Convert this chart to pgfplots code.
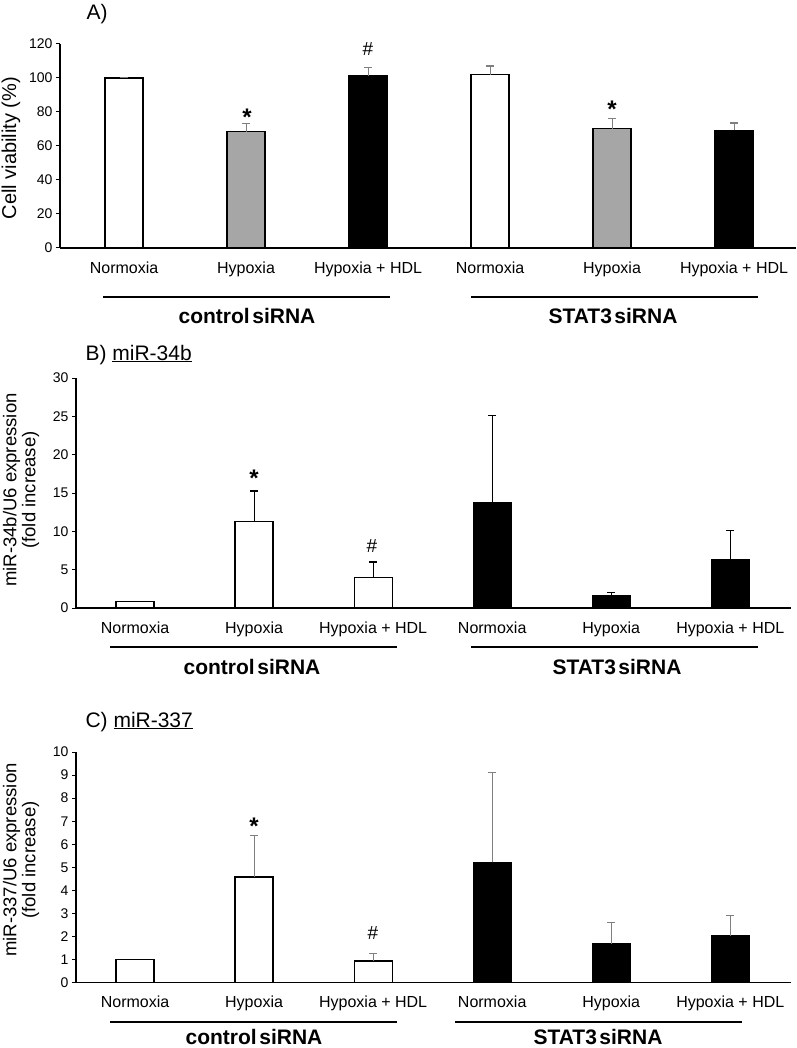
\documentclass[border=0pt]{standalone}
\usepackage{pgfplots}
\pgfplotsset{compat=1.18}
\usepackage{fontspec}
\setmainfont{Liberation Sans}
\newcommand\fs[1]{\fontsize{#1}{#1}\selectfont}
\definecolor{bargray}{HTML}{A6A6A6}
\definecolor{errgray}{HTML}{7F7F7F}
\pgfplotsset{
  panel/.style={
    scale only axis, anchor=south west,
    axis x line=bottom, axis y line=left,
    axis line style={-, line width=1.2pt, black},
    ybar, bar width=38pt, bar shift=0pt,
    xtick={0,...,5},
    xticklabels={Normoxia,Hypoxia,Hypoxia + HDL,Normoxia,Hypoxia,Hypoxia + HDL},
    xtick style={draw=none},
    tick align=outside, major tick length=4pt,
    ytick style={line width=1pt, black},
    ymin=0,
    yticklabel style={font=\fs{14}},
    xticklabel style={font=\fs{16}, yshift=-6pt},
    /pgf/number format/assume math mode=true,
    clip=false,
  },
  wbar/.style={fill=white, draw=black, line width=1.2pt},
  gbar/.style={fill=bargray, draw=black, line width=1.2pt},
  kbar/.style={fill=black, draw=black, line width=1.2pt},
  errs/.style={error bars/.cd, y dir=plus, y explicit,
    error bar style={color=#1, line width=1pt},
    error mark options={rotate=90, color=#1, mark size=4pt, line width=1.2pt}},
}
\begin{document}
\begin{tikzpicture}
\useasboundingbox (0,0) rectangle (796pt,-1048pt);
% ---------------- Panel A ----------------
\begin{axis}[panel, at={(60pt,-248pt)}, width=736pt, height=204pt,
  xmin=-0.525, xmax=5.508, ymax=120, ytick={0,20,...,120}]
\addplot[wbar, errs=errgray] coordinates {(0,100) +- (0,0.5) (3,102) +- (0,5)};
\addplot[gbar, errs=errgray] coordinates {(1,68.5) +- (0,4.6) (4,70.2) +- (0,6.2)};
\addplot[kbar, errs=errgray] coordinates {(2,101.4) +- (0,4.6) (5,69.2) +- (0,4.3)};
\end{axis}
\node[anchor=base west] at (83pt,-20pt) {\fs{21}A)};
\node[rotate=90] at (11pt,-148pt) {\fs{20}Cell viability (\%)};
\node[anchor=base] at (247pt,-126pt) {\fs{24}\bfseries *};
\node[anchor=base] at (612pt,-118pt) {\fs{24}\bfseries *};
\node[anchor=base] at (368pt,-56pt) {\fs{19}\#};
\draw[line width=1.2pt] (103pt,-297pt) -- (390pt,-297pt);
\draw[line width=1.2pt] (471pt,-297pt) -- (758pt,-297pt);
\node at (247pt,-316pt) {\fs{21}\bfseries control\hspace{0.12em}siRNA};
\node at (613pt,-316pt) {\fs{21}\bfseries STAT3\hspace{0.12em}siRNA};
% ---------------- Panel B ----------------
\begin{axis}[panel, at={(76pt,-608pt)}, width=715pt, height=230pt,
  xmin=-0.496, xmax=5.51, ymax=30, ytick={0,5,...,30}]
\addplot[wbar] coordinates {(0,0.85)};
\addplot[wbar, errs=black] coordinates {(1,11.25) +- (0,4.0) (2,4.0) +- (0,2.0)};
\addplot[kbar, errs=black] coordinates {(3,13.7) +- (0,11.4) (4,1.56) +- (0,0.45) (5,6.35) +- (0,3.73)};
\end{axis}
\node[anchor=base west] at (82pt,-360pt) {\fs{21}B) \underline{miR-34b}};
\node[rotate=90, align=center, font=\fontsize{18.5}{19}\selectfont] at (21pt,-490pt) {miR-34b/U6 expression\\(fold increase)};
\node[anchor=base] at (254pt,-486pt) {\fs{24}\bfseries *};
\node[anchor=base] at (372pt,-552pt) {\fs{19}\#};
\draw[line width=1.2pt] (110pt,-647pt) -- (397pt,-647pt);
\draw[line width=1.2pt] (471pt,-647pt) -- (758pt,-647pt);
\node at (252pt,-667pt) {\fs{21}\bfseries control\hspace{0.12em}siRNA};
\node at (617pt,-667pt) {\fs{21}\bfseries STAT3\hspace{0.12em}siRNA};
% ---------------- Panel C ----------------
\begin{axis}[panel, at={(76pt,-982.7pt)}, width=715pt, height=230.7pt,
  xmin=-0.496, xmax=5.51, ymax=10, ytick={0,1,...,10}]
\addplot[wbar] coordinates {(0,1.0)};
\addplot[wbar, errs=errgray] coordinates {(1,4.58) +- (0,1.8) (2,0.94) +- (0,0.34)};
\addplot[kbar, errs=errgray] coordinates {(3,5.22) +- (0,3.88) (4,1.68) +- (0,0.92) (5,2.04) +- (0,0.86)};
\end{axis}
\node[anchor=base west] at (82pt,-727pt) {\fs{21}C) \underline{miR-337}};
\node[rotate=90, align=center, font=\fontsize{18.5}{19}\selectfont] at (21pt,-860pt) {miR-337/U6 expression\\(fold increase)};
\node[anchor=base] at (254pt,-834pt) {\fs{24}\bfseries *};
\node[anchor=base] at (373pt,-939pt) {\fs{19}\#};
\draw[line width=1.2pt] (110pt,-1022pt) -- (397pt,-1022pt);
\draw[line width=1.2pt] (455pt,-1022pt) -- (742pt,-1022pt);
\node at (254pt,-1037pt) {\fs{21}\bfseries control\hspace{0.12em}siRNA};
\node at (598pt,-1037pt) {\fs{21}\bfseries STAT3\hspace{0.12em}siRNA};
\end{tikzpicture}
\end{document}
